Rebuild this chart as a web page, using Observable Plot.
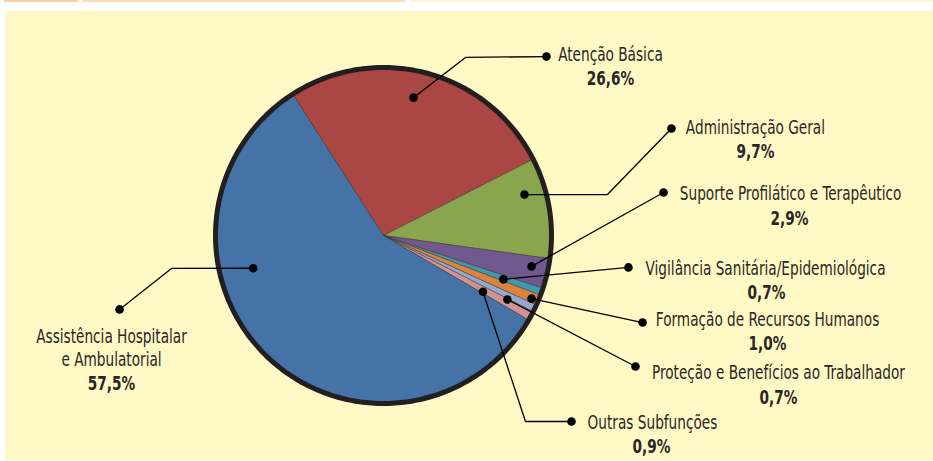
<!DOCTYPE html>
<html><head><meta charset="utf-8">
<script src="https://cdn.jsdelivr.net/npm/d3@7"></script>
<script src="https://cdn.jsdelivr.net/npm/@observablehq/plot@0.6"></script>
<style>
html,body{margin:0;padding:0;background:#fff;}
#wrap{position:relative;width:933px;height:461px;overflow:hidden;}
.panel{position:absolute;left:5px;top:11px;width:928px;height:449px;background:#fff9c5;}
.strip{position:absolute;top:0;height:2px;}
#chart{position:absolute;left:0;top:0;}
</style></head><body>
<div id="wrap">
 <div class="strip" style="left:4px;width:74px;background:#f6cfa2"></div>
 <div class="strip" style="left:82px;width:323px;background:#fbdcb7"></div>
 <div class="strip" style="left:410px;width:523px;background:#fff6d2"></div>
 <div class="panel"></div>
 <div id="chart"></div>
</div>
<script>
// ---- data ----
const categories = [
  "Atenção Básica",
  "Administração Geral",
  "Suporte Profilático e Terapêutico",
  "Vigilância Sanitária/Epidemiológica",
  "Formação de Recursos Humanos",
  "Proteção e Benefícios ao Trabalhador",
  "Outras Subfunções",
  "Assistência Hospitalar\ne Ambulatorial"
];
const values = [26.6, 9.7, 2.9, 0.7, 1.0, 0.7, 0.9, 57.5];
const pctLabels = ["26,6%", "9,7%", "2,9%", "0,7%", "1,0%", "0,7%", "0,9%", "57,5%"];
const colors = ["#AA4643", "#89A54E", "#71588F", "#4198AF", "#DB843D", "#93A9CF", "#D19392", "#4572A7"];

// ---- layout (unit = pie radius, y downward) ----
const startAngleDeg = -32.8;
// inner leader dot: [angle deg clockwise from top, radius fraction]
const innerDot = [[12.3,0.84],[73.8,0.874],[101.8,0.9],[110.1,0.76],[113.1,0.958],[117.3,0.83],[119.5,0.68],[255.9,0.80]];
// elbow points (null = straight line)
const elbow = [[0.488,-1.060],[1.333,-0.244],null,null,null,null,[0.845,1.107],[-1.262,0.196]];
const outerDot = [[0.970,-1.065],[1.714,-0.637],[1.667,-0.256],[1.458,0.190],[1.542,0.518],[1.5,0.780],[1.119,1.107],[-1.571,0.440]];
const namePos = [[1.351,-1.080],[2.214,-0.646],[2.423,-0.253],[2.274,0.193],[2.286,0.497],[2.351,0.812],[1.601,1.110],[-1.619,0.664]];
const pctPos = [[1.351,-0.935],[2.214,-0.500],[2.417,-0.101],[2.280,0.339],[2.286,0.643],[2.351,0.964],[1.595,1.256],[-1.619,0.881]];

const data = categories.map((name, i) => ({name, value: values[i]}));
const rad = Math.PI / 180;
const pie = d3.pie().sort(null).value(d => d.value)
  .startAngle(startAngleDeg * rad).endAngle(startAngleDeg * rad + 2 * Math.PI);
const arcs = pie(data);

const slicePts = arcs.flatMap(a => {
  const n = Math.max(2, Math.ceil((a.endAngle - a.startAngle) / (Math.PI / 360)));
  const pts = [{name: a.data.name, x: 0, y: 0}];
  for (let i = 0; i <= n; i++) {
    const t = a.startAngle + (a.endAngle - a.startAngle) * i / n;
    pts.push({name: a.data.name, x: Math.sin(t), y: -Math.cos(t)});
  }
  return pts;
});
const ring = d3.range(0, 361).map(d => ({x: Math.sin(d * rad), y: -Math.cos(d * rad)}));

const polar = ([a, r]) => [r * Math.sin(a * rad), -r * Math.cos(a * rad)];
const leaderPts = categories.flatMap((name, i) => {
  const pts = [polar(innerDot[i])];
  if (elbow[i]) pts.push(elbow[i]);
  pts.push(outerDot[i]);
  return pts.map(([x, y]) => ({id: i, x, y}));
});
const dotPts = categories.flatMap((name, i) => {
  const [x1, y1] = polar(innerDot[i]);
  return [{x: x1, y: y1}, {x: outerDot[i][0], y: outerDot[i][1]}];
});
const labelRows = categories.map((name, i) => ({
  name, pct: pctLabels[i], nx: namePos[i][0], ny: namePos[i][1], px: pctPos[i][0], py: pctPos[i][1]
}));

const font = "'DejaVu Sans Condensed', 'DejaVu Sans', sans-serif";
const R = 168, cx = 383, cy = 235;
const plot = Plot.plot({
  width: 933, height: 461,
  margin: 0,
  style: {background: "transparent", overflow: "visible"},
  x: {domain: [-1, 1], range: [cx - R, cx + R], axis: null},
  y: {domain: [-1, 1], range: [cy - R, cy + R], axis: null},
  color: {domain: categories, range: colors},
  marks: [
    Plot.line(slicePts, {x: "x", y: "y", z: "name", fill: "name", stroke: "#3a3433", strokeWidth: 0.6, curve: "linear-closed"}),
    Plot.line(ring, {x: "x", y: "y", stroke: "#231f20", strokeWidth: 5, curve: "linear-closed"}),
    Plot.line(leaderPts, {x: "x", y: "y", z: "id", stroke: "#000", strokeWidth: 1.3, curve: "linear"}),
    Plot.dot(dotPts, {x: "x", y: "y", r: 4.3, fill: "#000", stroke: null}),
    Plot.text(labelRows, {x: "nx", y: "ny", text: "name", fontSize: 20, fontFamily: font, fill: "#2a2626", lineHeight: 1.15}),
    Plot.text(labelRows, {x: "px", y: "py", text: "pct", fontSize: 20, fontWeight: "bold", fontFamily: font, fill: "#2a2626"})
  ]
});
document.getElementById("chart").appendChild(plot);

// condense the text horizontally around its anchor
plot.querySelectorAll("g[aria-label='text'] text").forEach(t => {
  const tr = t.getAttribute("transform");
  if (tr) {
    t.setAttribute("transform", tr + " scale(0.76,1)");
  } else {
    const x = +t.getAttribute("x") || 0, y = +t.getAttribute("y") || 0;
    t.setAttribute("transform", `translate(${x},${y}) scale(0.76,1) translate(${-x},${-y})`);
  }
});
</script>
</body></html>
